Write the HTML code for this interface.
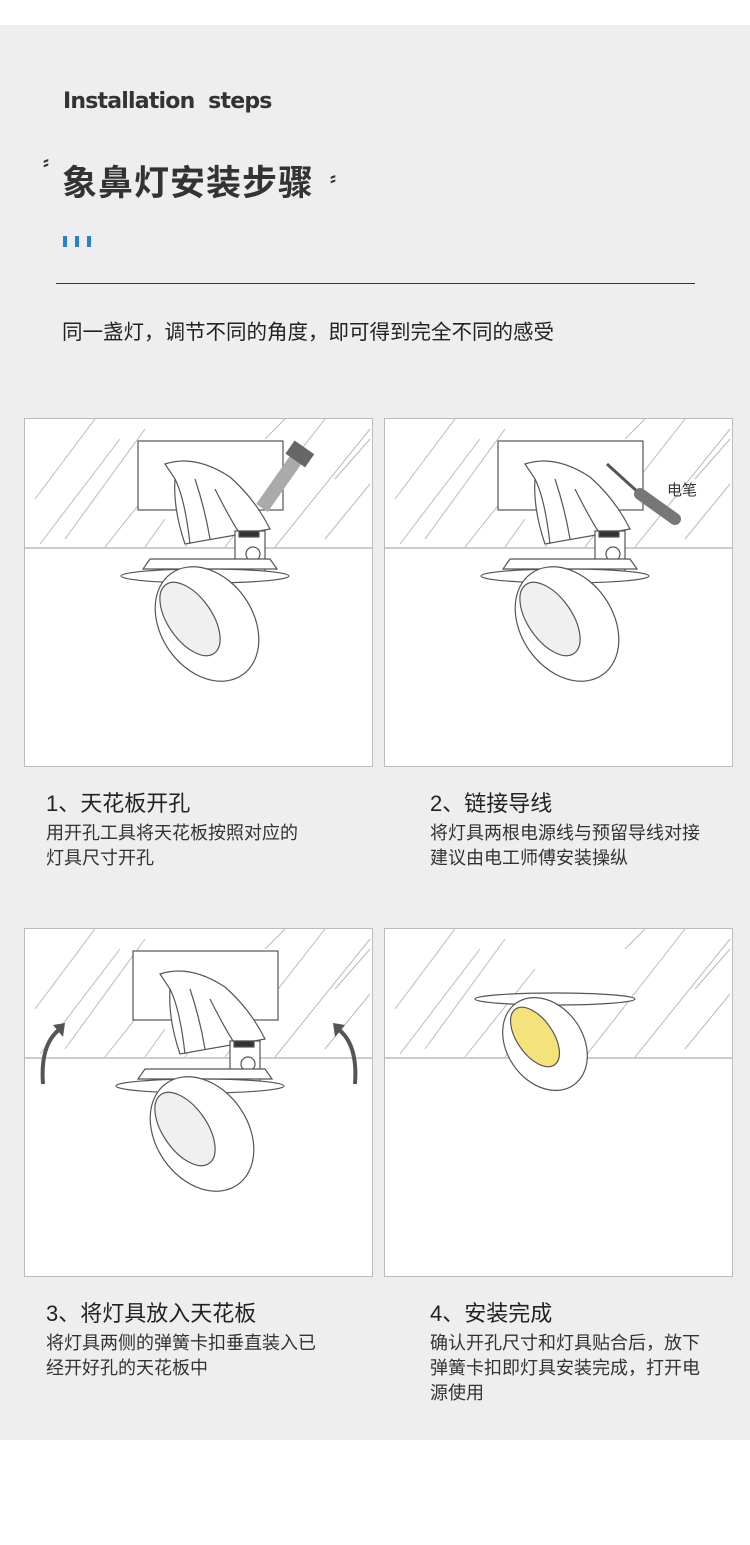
<!DOCTYPE html>
<html><head><meta charset="utf-8"><style>
body{margin:0;width:750px;height:1545px;background:#fff;position:relative;font-family:"Liberation Sans","Noto Sans CJK SC",sans-serif;color:#222;overflow:hidden}
.bg{position:absolute;left:0;top:25px;width:750px;height:1415px;background:#eeeeee}
.a{position:absolute;white-space:nowrap}
.p{position:absolute;width:347px;height:347px;background:#fff;border:1px solid #bbb}
.t{font-size:22px;color:#222}
.d{font-size:18px;line-height:25px;color:#333}
</style></head><body>
<div class="bg"></div>
<div class="a" style="left:63px;top:89px;font-size:22px;font-weight:bold;color:#333;font-family:'DejaVu Sans',sans-serif;letter-spacing:-0.8px">Installation&nbsp; steps</div>
<div class="a" style="left:43px;top:152px;font-size:18px;font-weight:bold;color:#333">⸗</div>
<div class="a" style="left:62px;top:155px;font-size:35px;font-weight:bold;color:#333;letter-spacing:1px">象鼻灯安装步骤</div>
<div class="a" style="left:330px;top:168px;font-size:18px;font-weight:bold;color:#333">⸗</div>
<div class="a" style="left:63px;top:236px;width:4px;height:11px;background:#2a7fd0"></div>
<div class="a" style="left:75px;top:236px;width:4px;height:11px;background:#2a7fd0"></div>
<div class="a" style="left:87px;top:236px;width:4px;height:11px;background:#2a7fd0"></div>
<div class="a" style="left:56px;top:283px;width:639px;height:1px;background:#333"></div>
<div class="a" style="left:62px;top:315px;font-size:20.5px;color:#222">同一盏灯，调节不同的角度，即可得到完全不同的感受</div>

<svg width="0" height="0" style="position:absolute">
<defs>
<g id="hatch" stroke="#bbb" stroke-width="1">
<line x1="15" y1="125" x2="95" y2="20"/><line x1="40" y1="120" x2="120" y2="10"/><line x1="10" y1="80" x2="70" y2="0"/><line x1="80" y1="128" x2="150" y2="40"/><line x1="200" y1="128" x2="300" y2="0"/><line x1="250" y1="128" x2="345" y2="10"/><line x1="300" y1="120" x2="345" y2="65"/><line x1="310" y1="60" x2="345" y2="20"/><line x1="120" y1="128" x2="140" y2="100"/><line x1="160" y1="128" x2="180" y2="100"/><line x1="240" y1="20" x2="260" y2="0"/>
</g>
<g id="lamp" stroke="#555" stroke-width="1.2" fill="#fff">
<rect x="113" y="22" width="145" height="69" fill="#fff"/>
<path d="M140 45 Q170 35 205 58 Q230 80 245 110 L160 125 Q148 90 150 60 Z"/>
<path d="M150 60 Q160 80 165 125 M170 60 Q180 90 185 120 M190 70 Q205 100 215 115"/>
<rect x="210" y="112" width="30" height="40" fill="#fff"/>
<circle cx="228" cy="135" r="7"/>
<rect x="214" y="112" width="20" height="6" fill="#333"/>
<path d="M125 140 L245 140 L252 150 L118 150 Z"/>
<ellipse cx="180" cy="157" rx="84" ry="7"/>
<ellipse cx="182" cy="205" rx="62" ry="46" transform="rotate(55 182 205)"/>
<ellipse cx="165" cy="200" rx="42" ry="22" transform="rotate(55 165 200)" fill="#f0f0f0"/>
</g>
</defs>
</svg>

<div class="p" style="left:24px;top:418px"><svg width="347" height="347"><use href="#hatch"/><line x1="0" y1="129" x2="347" y2="129" stroke="#999"/><use href="#lamp"/>
<g transform="rotate(-55 255 65)"><rect x="225" y="57" width="60" height="14" fill="#aaa"/><rect x="283" y="52" width="16" height="24" fill="#666"/></g></svg></div>
<div class="p" style="left:384px;top:418px"><svg width="347" height="347"><use href="#hatch"/><line x1="0" y1="129" x2="347" y2="129" stroke="#999"/><use href="#lamp"/>
<line x1="222" y1="45" x2="255" y2="75" stroke="#555" stroke-width="3"/><line x1="255" y1="75" x2="290" y2="100" stroke="#777" stroke-width="12" stroke-linecap="round"/>
<text x="282" y="76" font-size="15" fill="#333" font-family="Liberation Sans,Noto Sans CJK SC,sans-serif">电笔</text></svg></div>
<div class="p" style="left:24px;top:928px"><svg width="347" height="347"><use href="#hatch"/><line x1="0" y1="129" x2="347" y2="129" stroke="#999"/><g transform="translate(-5,0)"><use href="#lamp"/></g>
<path d="M18 155 Q15 115 35 100" stroke="#555" stroke-width="4" fill="none"/><path d="M28 96 L40 94 L38 108 Z" fill="#555"/>
<path d="M330 155 Q333 115 313 100" stroke="#555" stroke-width="4" fill="none"/><path d="M320 96 L308 94 L310 108 Z" fill="#555"/></svg></div>
<div class="p" style="left:384px;top:928px"><svg width="347" height="347"><use href="#hatch"/><line x1="0" y1="129" x2="347" y2="129" stroke="#999"/>
<g stroke="#555" stroke-width="1.2" fill="#fff"><ellipse cx="170" cy="70" rx="80" ry="6"/>
<ellipse cx="160" cy="115" rx="50" ry="38" transform="rotate(55 160 115)"/>
<ellipse cx="150" cy="108" rx="34" ry="18" transform="rotate(55 150 108)" fill="#f4e27a"/></g></svg></div>

<div class="a t" style="left:46px;top:786px">1、天花板开孔</div>
<div class="a d" style="left:46px;top:821px">用开孔工具将天花板按照对应的<br>灯具尺寸开孔</div>
<div class="a t" style="left:430px;top:786px">2、链接导线</div>
<div class="a d" style="left:430px;top:821px">将灯具两根电源线与预留导线对接<br>建议由电工师傅安装操纵</div>
<div class="a t" style="left:46px;top:1296px">3、将灯具放入天花板</div>
<div class="a d" style="left:46px;top:1331px">将灯具两侧的弹簧卡扣垂直装入已<br>经开好孔的天花板中</div>
<div class="a t" style="left:430px;top:1296px">4、安装完成</div>
<div class="a d" style="left:430px;top:1331px">确认开孔尺寸和灯具贴合后，放下<br>弹簧卡扣即灯具安装完成，打开电<br>源使用</div>
</body></html>
